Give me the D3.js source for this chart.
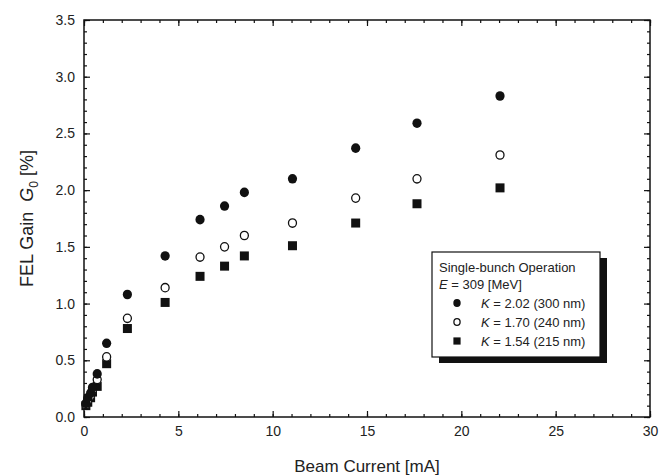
<!DOCTYPE html>
<html>
<head>
<meta charset="utf-8">
<script src="https://cdn.jsdelivr.net/npm/d3@7"></script>
<style>
  body { margin: 0; background: #fff; }
  text { font-family: "Liberation Sans", Arial, sans-serif; fill: #222; }
</style>
</head>
<body>
<script>
// beam current [mA]
const current = [0.1, 0.2, 0.35, 0.45, 0.7, 1.2, 2.3, 4.3, 6.15, 7.45, 8.5, 11.05, 14.4, 17.65, 22.05];
// FEL gain G0 [%] for each K
const gainK202 = [0.12, 0.17, 0.21, 0.26, 0.38, 0.65, 1.08, 1.42, 1.74, 1.86, 1.98, 2.10, 2.37, 2.59, 2.83];
const gainK170 = [0.11, 0.15, 0.19, 0.24, 0.33, 0.53, 0.87, 1.14, 1.41, 1.50, 1.60, 1.71, 1.93, 2.10, 2.31];
const gainK154 = [0.10, 0.13, 0.17, 0.22, 0.27, 0.47, 0.78, 1.01, 1.24, 1.33, 1.42, 1.51, 1.71, 1.88, 2.02];

const xTicks = [0, 5, 10, 15, 20, 25, 30];
const yTicks = [0, 0.5, 1.0, 1.5, 2.0, 2.5, 3.0, 3.5];

const series = [
  {k: '2.02', nm: '300 nm', vals: gainK202, sym: 'filled'},
  {k: '1.70', nm: '240 nm', vals: gainK170, sym: 'open'},
  {k: '1.54', nm: '215 nm', vals: gainK154, sym: 'square'}
];

const width = 669, height = 476;
const m = {left: 84, right: 19, top: 20, bottom: 59};

const svg = d3.select('body').append('svg')
  .attr('width', width).attr('height', height);

const x = d3.scaleLinear().domain([0, 30]).range([m.left, width - m.right]);
const y = d3.scaleLinear().domain([0, 3.5]).range([height - m.bottom, m.top]);

const x0 = x.range()[0], x1 = x.range()[1];
const y0 = y.range()[0], y1 = y.range()[1];

const minorX = d3.range(0, 31, 1);
const minorY = d3.range(0, 36).map(d => d / 10);

// ticks pointing inward on all four sides, labels only bottom/left
const sides = [
  {make: d3.axisBottom, s: x, tr: `translate(0,${y0})`, lab: d3.format('d'), major: xTicks, minor: minorX},
  {make: d3.axisTop, s: x, tr: `translate(0,${y1})`, lab: null, major: xTicks, minor: minorX},
  {make: d3.axisLeft, s: y, tr: `translate(${x0},0)`, lab: d3.format('.1f'), major: yTicks, minor: minorY},
  {make: d3.axisRight, s: y, tr: `translate(${x1},0)`, lab: null, major: yTicks, minor: minorY}
];

sides.forEach(d => {
  svg.append('g').attr('transform', d.tr)
    .call(d.make(d.s).tickValues(d.minor).tickSize(-3).tickFormat(''))
    .call(g => g.select('.domain').remove());
  svg.append('g').attr('transform', d.tr)
    .call(d.make(d.s).tickValues(d.major).tickSize(-6).tickPadding(9).tickFormat(d.lab || ''))
    .call(g => g.select('.domain').remove())
    .call(g => g.selectAll('text').style('font-size', '14px').attr('fill', '#222'));
});

svg.selectAll('.tick line').attr('stroke', '#111').attr('stroke-width', 1.2);

svg.append('rect')
  .attr('x', x0).attr('y', y1).attr('width', x1 - x0).attr('height', y0 - y1)
  .attr('fill', 'none').attr('stroke', '#111').attr('stroke-width', 1.5);

// axis titles
svg.append('text')
  .attr('x', (x0 + x1) / 2).attr('y', 472)
  .attr('text-anchor', 'middle').style('font-size', '17px')
  .text('Beam Current [mA]');

const yt = svg.append('text')
  .attr('transform', `translate(33,${(y0 + y1) / 2}) rotate(-90)`)
  .attr('text-anchor', 'middle').style('font-size', '18px');
yt.append('tspan').text('FEL Gain\u00a0\u00a0');
yt.append('tspan').style('font-style', 'italic').text('G');
yt.append('tspan').attr('dy', 5).style('font-size', '12px').text('0');
yt.append('tspan').attr('dy', -5).text(' [%]');

// markers
function drawSym(g, sym, cx, cy, r) {
  if (sym === 'square') {
    g.append('rect').attr('x', cx - r).attr('y', cy - r)
      .attr('width', 2 * r).attr('height', 2 * r).attr('fill', '#111');
  } else if (sym === 'filled') {
    g.append('ellipse').attr('cx', cx).attr('cy', cy).attr('rx', r + 0.1).attr('ry', r + 0.3)
      .attr('fill', '#111');
  } else {
    g.append('ellipse').attr('cx', cx).attr('cy', cy).attr('rx', r - 0.5).attr('ry', r - 0.3)
      .attr('fill', '#fff').attr('stroke', '#111').attr('stroke-width', 1.3);
  }
}

const plot = svg.append('g');
// squares first, then open, then filled, like the overlaps in the original
[series[2], series[1], series[0]].forEach(s => {
  const g = plot.append('g');
  s.vals.forEach((v, i) => drawSym(g, s.sym, x(current[i]), y(v), 4.5));
});

// legend
const lg = svg.append('g').attr('transform', 'translate(432,252)');
const lw = 168, lh = 105;
lg.append('rect').attr('x', 7).attr('y', 6).attr('width', lw).attr('height', lh).attr('fill', '#111');
lg.append('rect').attr('x', 0).attr('y', 0).attr('width', lw).attr('height', lh)
  .attr('fill', '#fff').attr('stroke', '#111').attr('stroke-width', 1.2);

lg.append('text').attr('x', 7).attr('y', 20).style('font-size', '13px').text('Single-bunch Operation');
const et = lg.append('text').attr('x', 7).attr('y', 37).style('font-size', '13px');
et.append('tspan').style('font-style', 'italic').text('E');
et.append('tspan').text(' = 309 [MeV]');

series.forEach((s, i) => {
  const cy = 51 + i * 19;
  drawSym(lg, s.sym, 25, cy, 3.6);
  const t = lg.append('text').attr('x', 49).attr('y', cy + 5).style('font-size', '13px');
  t.append('tspan').style('font-style', 'italic').text('K');
  t.append('tspan').text(` = ${s.k} (${s.nm})`);
});
</script>
</body>
</html>
